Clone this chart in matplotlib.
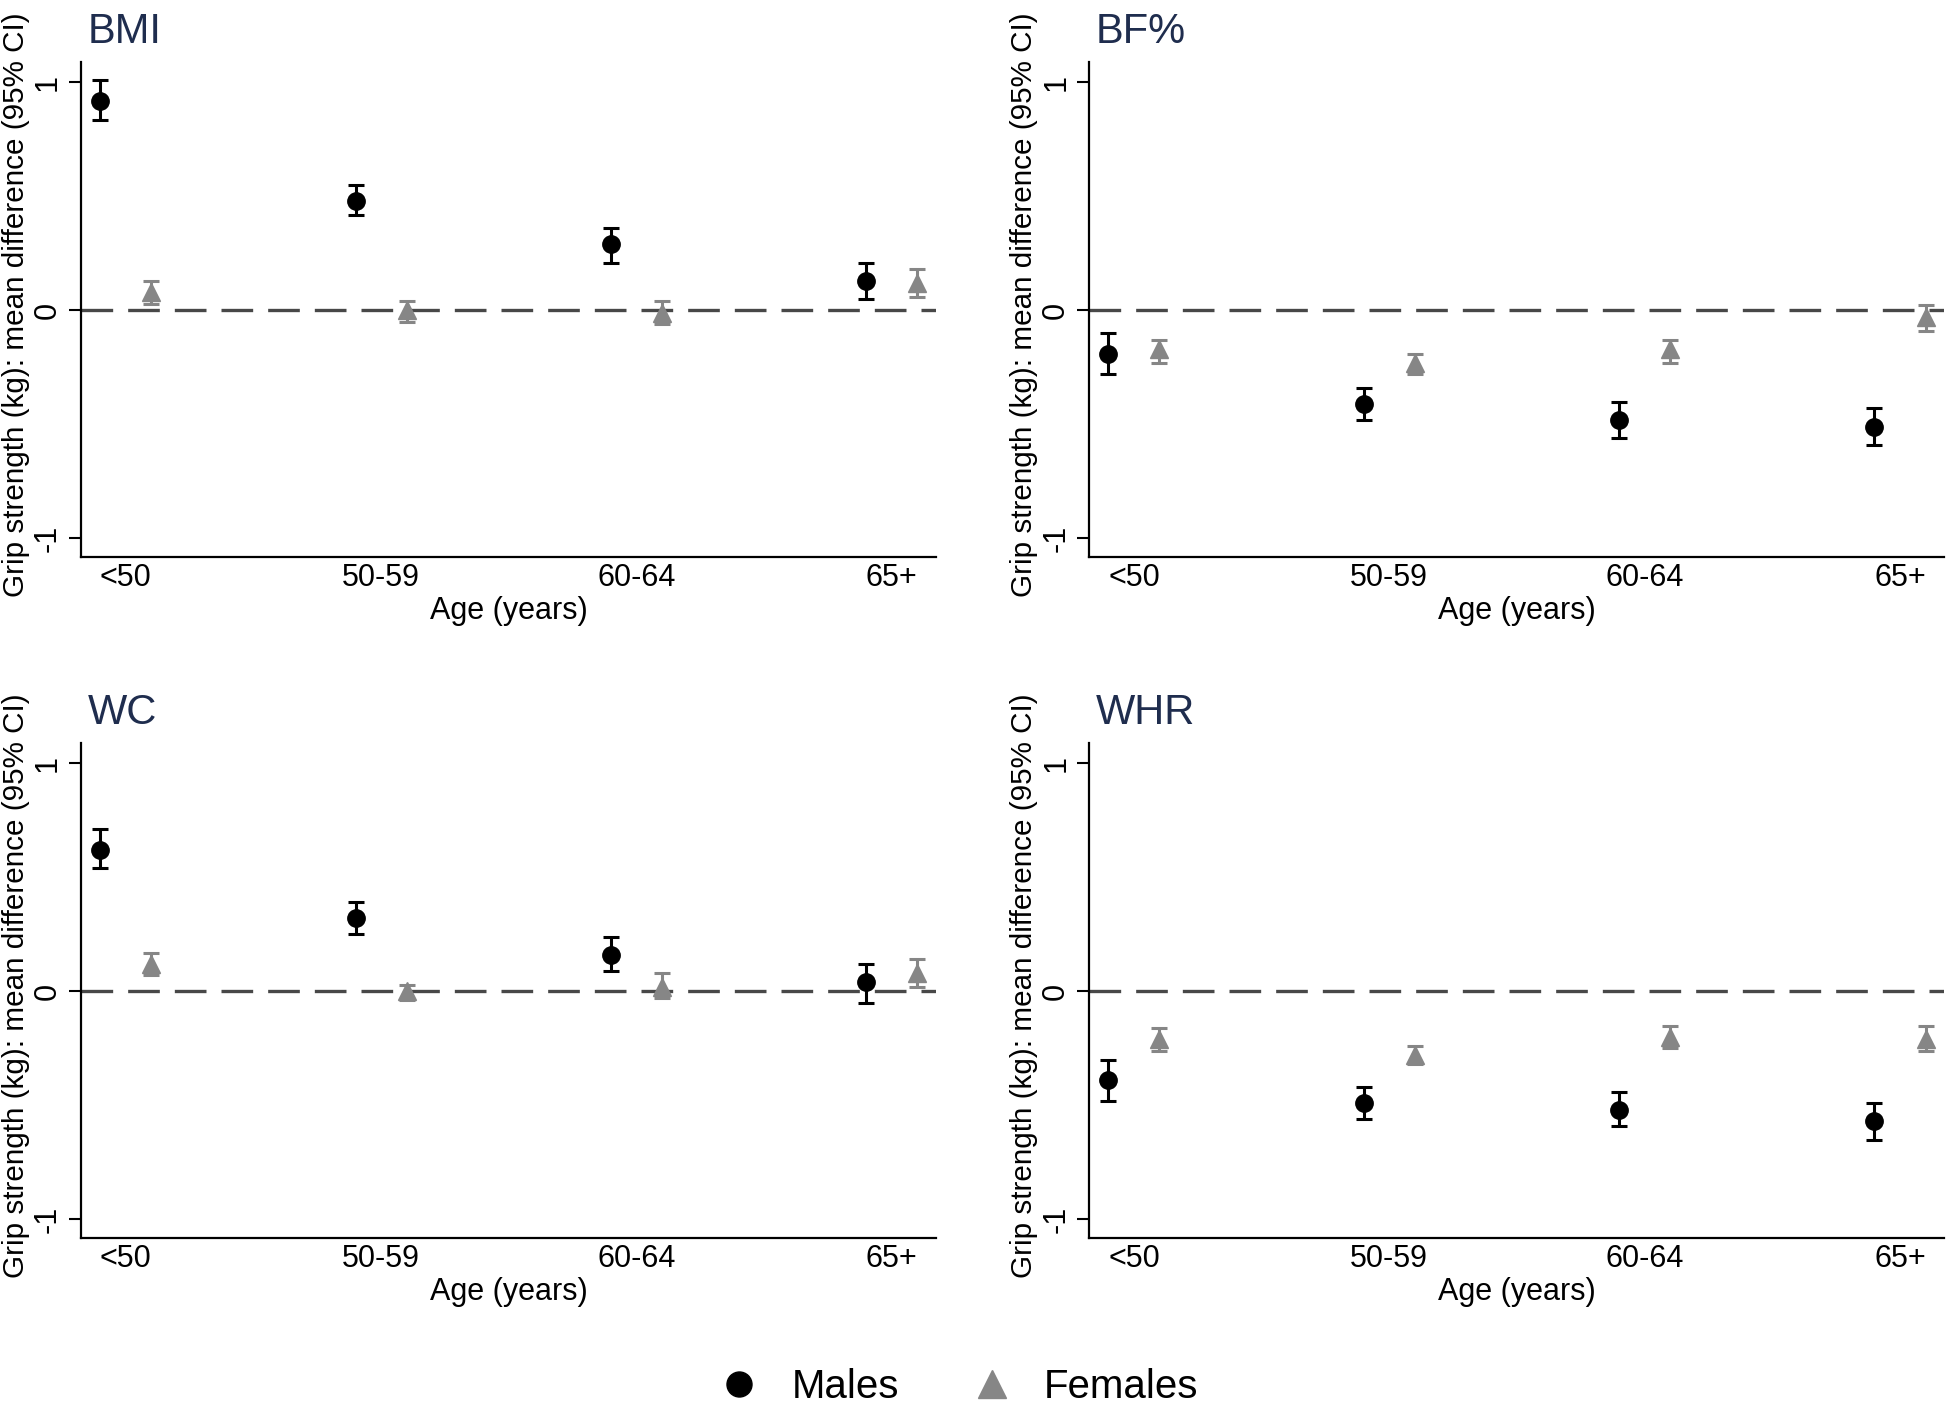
import matplotlib
matplotlib.use("Agg")
import matplotlib.pyplot as plt
from matplotlib.lines import Line2D

plt.rcParams['font.family'] = ['Liberation Sans', 'DejaVu Sans']

AGE_GROUPS = ["<50", "50-59", "60-64", "65+"]
PANELS = ["BMI", "BF%", "WC", "WHR"]

# mean difference, lower CI, upper CI per age group
MALES_MEAN = {
    "BMI": [0.92, 0.48, 0.29, 0.13],
    "BF%": [-0.19, -0.41, -0.48, -0.51],
    "WC": [0.62, 0.32, 0.16, 0.04],
    "WHR": [-0.39, -0.49, -0.52, -0.57],
}
MALES_LO = {
    "BMI": [0.835, 0.42, 0.21, 0.05],
    "BF%": [-0.28, -0.48, -0.56, -0.59],
    "WC": [0.54, 0.25, 0.09, -0.05],
    "WHR": [-0.48, -0.56, -0.59, -0.65],
}
MALES_HI = {
    "BMI": [1.01, 0.55, 0.36, 0.21],
    "BF%": [-0.10, -0.34, -0.40, -0.43],
    "WC": [0.71, 0.39, 0.24, 0.12],
    "WHR": [-0.30, -0.42, -0.44, -0.49],
}
FEMALES_MEAN = {
    "BMI": [0.08, 0.0, -0.01, 0.12],
    "BF%": [-0.17, -0.23, -0.17, -0.03],
    "WC": [0.12, 0.0, 0.02, 0.08],
    "WHR": [-0.21, -0.28, -0.20, -0.21],
}
FEMALES_LO = {
    "BMI": [0.03, -0.05, -0.06, 0.06],
    "BF%": [-0.23, -0.28, -0.23, -0.09],
    "WC": [0.07, -0.04, -0.03, 0.02],
    "WHR": [-0.26, -0.32, -0.25, -0.26],
}
FEMALES_HI = {
    "BMI": [0.13, 0.04, 0.04, 0.18],
    "BF%": [-0.13, -0.19, -0.13, 0.025],
    "WC": [0.17, 0.03, 0.08, 0.14],
    "WHR": [-0.16, -0.24, -0.15, -0.15],
}

MALE_COLOR = "black"
FEMALE_COLOR = "#868686"
TITLE_COLOR = "#1f2d4e"
FS = 22

fig = plt.figure(figsize=(19.52, 14.04), dpi=100)
positions = {
    "BMI": [0.0415, 0.603, 0.438, 0.3526],
    "BF%": [0.558, 0.603, 0.438, 0.3526],
    "WC": [0.0415, 0.118, 0.438, 0.3526],
    "WHR": [0.558, 0.118, 0.438, 0.3526],
}

x = [1, 2, 3, 4]
for name in PANELS:
    ax = fig.add_axes(positions[name])
    ax.axhline(0, color="#484848", lw=2.4, dashes=(9.5, 4.5), zorder=1)

    m = MALES_MEAN[name]
    f = FEMALES_MEAN[name]
    m_err = [[a - b for a, b in zip(m, MALES_LO[name])],
             [b - a for a, b in zip(m, MALES_HI[name])]]
    f_err = [[a - b for a, b in zip(f, FEMALES_LO[name])],
             [b - a for a, b in zip(f, FEMALES_HI[name])]]
    ax.errorbar([i - 0.1 for i in x], m, yerr=m_err, fmt='o', color=MALE_COLOR,
                ms=12.5, elinewidth=2.2, capsize=6, capthick=2.2, zorder=3)
    ax.errorbar([i + 0.1 for i in x], f, yerr=f_err, fmt='^', color=FEMALE_COLOR,
                ms=13, elinewidth=2.2, capsize=6, capthick=2.2, zorder=3)

    ax.set_xlim(0.825, 4.173)
    ax.set_ylim(-1.083, 1.088)
    ax.set_xticks(x)
    ax.set_xticklabels(AGE_GROUPS, fontsize=FS)
    ax.set_yticks([-1, 0, 1])
    ax.set_yticklabels(["-1", "0", "1"], fontsize=FS, rotation=90, va="center")
    ax.tick_params(axis="x", length=0, pad=4)
    ax.tick_params(axis="y", length=9, width=1.5, pad=4)
    for s in ["top", "right"]:
        ax.spines[s].set_visible(False)
    for s in ["left", "bottom"]:
        ax.spines[s].set_linewidth(1.6)
    ax.set_xlabel("Age (years)", fontsize=FS, labelpad=2)
    ax.set_ylabel("Grip strength (kg): mean difference (95% CI)", fontsize=21.3)
    ax.yaxis.set_label_coords(-0.06, 0.51)
    ax.set_title(name, loc="left", fontsize=30, color=TITLE_COLOR, x=0.008, pad=14)

handles = [
    Line2D([], [], marker='o', ls='none', color=MALE_COLOR, ms=18),
    Line2D([], [], marker='^', ls='none', color=FEMALE_COLOR, ms=20),
]
fig.legend(handles, ["Males", "Females"], loc="center", bbox_to_anchor=(0.486, 0.012),
           ncol=2, frameon=False, fontsize=29, handletextpad=0.3, columnspacing=1.3)

fig.savefig("out.png", dpi=100)
